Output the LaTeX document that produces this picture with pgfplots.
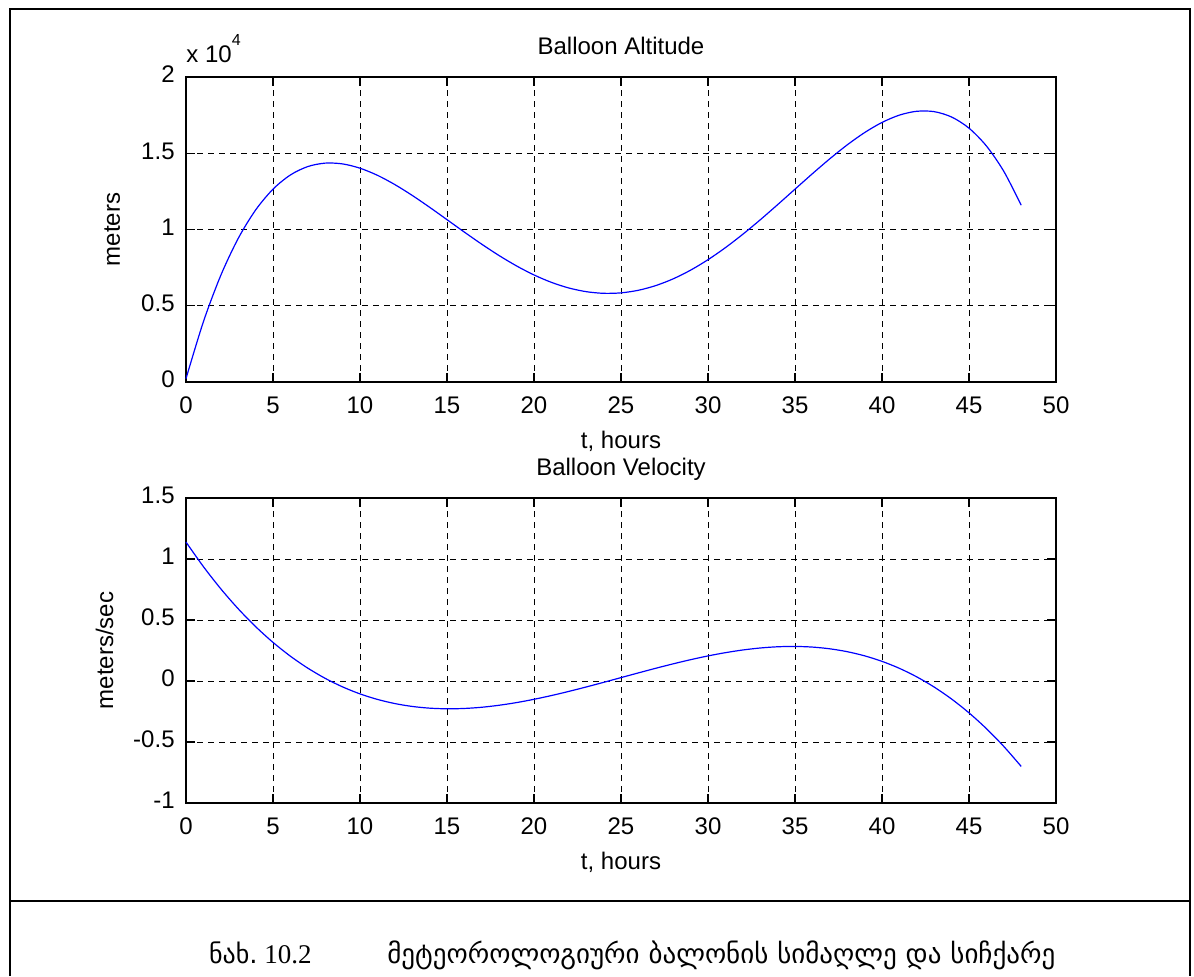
\documentclass[border=0pt]{standalone}
\usepackage{fontspec}
\setmainfont{Liberation Sans}
\newfontfamily\geofont{DejaVu Sans}
\newfontfamily\timesfont{Liberation Serif}
\usepackage{pgfplots}
\pgfplotsset{compat=1.18}

% altitude in meters, t in hours
\pgfplotstableread{
t h
0 220
1 3951.88
2 6994.08
3 9414.28
4 11277.28
5 12645
6 13576.48
7 14127.88
8 14352.48
9 14300.68
10 14020
11 13555.08
12 12947.68
13 12236.68
14 11458.08
15 10645
16 9827.68
17 9033.48
18 8286.88
19 7609.48
20 7020
21 6534.28
22 6165.28
23 5923.08
24 5814.88
25 5845
26 6014.88
27 6323.08
28 6765.28
29 7334.28
30 8020
31 8809.48
32 9686.88
33 10633.48
34 11627.68
35 12645
36 13658.08
37 14636.68
38 15547.68
39 16355.08
40 17020
41 17500.68
42 17752.48
43 17727.88
44 17376.48
45 16645
46 15477.28
47 13814.28
48 11594.08
}\altitude

% velocity in meters/sec
\pgfplotstableread{
t v
0 1.1389
1 0.9376
2 0.7556
3 0.5920
4 0.4459
5 0.3167
6 0.2034
7 0.1054
8 0.0217
9 -0.0483
10 -0.1056
11 -0.1508
12 -0.1848
13 -0.2085
14 -0.2225
15 -0.2278
16 -0.2250
17 -0.2151
18 -0.1987
19 -0.1768
20 -0.1500
21 -0.1192
22 -0.0853
23 -0.0489
24 -0.0110
25 0.0278
26 0.0665
27 0.1045
28 0.1408
29 0.1748
30 0.2056
31 0.2323
32 0.2543
33 0.2706
34 0.2806
35 0.2833
36 0.2781
37 0.2640
38 0.2404
39 0.2064
40 0.1611
41 0.1039
42 0.0338
43 -0.0498
44 -0.1479
45 -0.2611
46 -0.3904
47 -0.5364
48 -0.7000
}\velocity

\pgfplotsset{
  matlab/.style={
    scale only axis, width=435pt, height=152.5pt,
    anchor=south west, clip=false,
    xmin=0, xmax=50,
    xtick={0,5,...,50},
    xticklabels={0,5,10,15,20,25,30,35,40,45,50},
    scaled x ticks=false, scaled y ticks=false,
    typeset ticklabels with strut,
    tick pos=both, tick align=inside,
    major tick length=4.5pt,
    tick style={black, line width=0.7pt},
    axis line style={line width=0.8pt},
    grid=major,
    major grid style={black, line width=0.5pt, dash pattern=on 3pt off 2.5pt},
    xticklabel style={yshift=-1.5pt},
    yticklabel style={xshift=-1.5pt},
    every axis x label/.style={at={(axis description cs:0.5,-0.2164)}, anchor=base},
    every axis title/.style={at={(axis description cs:0.5,1.074)}, anchor=base},
  }
}

\begin{document}
\fontsize{12}{14.4}\selectfont
\begin{tikzpicture}
\useasboundingbox (0,0) rectangle (597pt,488pt);

% frame and caption rule
\draw[line width=1.25pt] (5pt,0) -- (5pt,483.5pt) -- (595pt,483.5pt) -- (595pt,0);
\draw[line width=1.25pt] (5pt,37.5pt) -- (595pt,37.5pt);

\begin{axis}[matlab,
    at={(93pt,297pt)},
    ymin=0, ymax=20000,
    ytick={0,5000,10000,15000,20000},
    yticklabels={0,0.5,1,1.5,2},
    title={Balloon Altitude},
    xlabel={t, hours},
    ylabel={meters},
    every axis y label/.style={at={(axis description cs:-0.0759,0.5)}, rotate=90, anchor=base},
]
\addplot[blue, line width=0.6pt, smooth] table[x=t, y=h] {\altitude};
\node[anchor=base west, inner sep=0pt] at (axis description cs:0,1.046)
  {x 10\raisebox{8.5pt}{\fontsize{8}{9}\selectfont 4}};
\end{axis}

\begin{axis}[matlab,
    at={(93pt,86.5pt)},
    ymin=-1, ymax=1.5,
    ytick={-1,-0.5,0,0.5,1,1.5},
    yticklabels={-1,-0.5,0,0.5,1,1.5},
    title={Balloon Velocity},
    xlabel={t, hours},
    ylabel={meters/sec},
    every axis y label/.style={at={(axis description cs:-0.0839,0.5)}, rotate=90, anchor=base},
]
\addplot[blue, line width=0.6pt, smooth] table[x=t, y=v] {\velocity};
\end{axis}

% caption
\node[anchor=base east, inner sep=0pt] at (156pt,6.5pt)
  {{\geofont\fontsize{13}{15}\selectfont ნახ.}~{\timesfont\fontsize{13.5}{16}\selectfont 10.2}};
\node[anchor=base west, inner sep=0pt] at (193.5pt,6.5pt)
  {\makebox[334pt][s]{\geofont\fontsize{13.5}{16}\selectfont მეტეოროლოგიური ბალონის სიმაღლე და სიჩქარე}};
\end{tikzpicture}
\end{document}
